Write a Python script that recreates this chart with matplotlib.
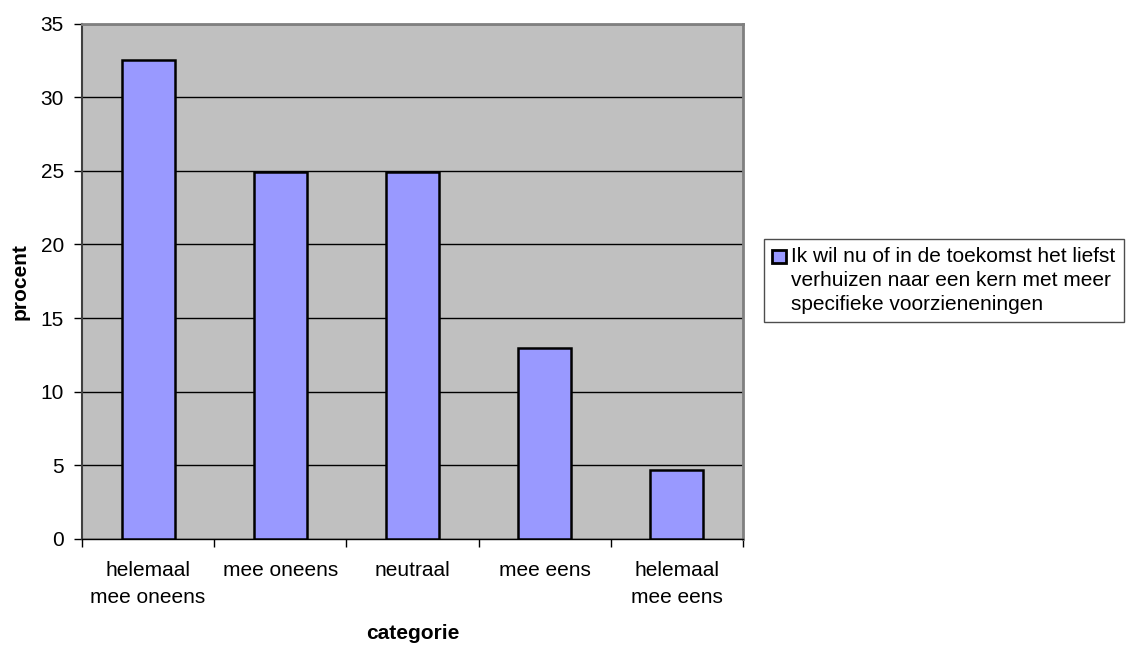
import matplotlib
matplotlib.use("Agg")
import matplotlib.pyplot as plt
import numpy as np
from matplotlib.patches import Patch, Rectangle
from matplotlib.legend_handler import HandlerPatch

categories = ["helemaal\nmee oneens", "mee oneens", "neutraal", "mee eens", "helemaal\nmee eens"]
values = [32.5, 24.9, 24.9, 13.0, 4.7]
series_label = "Ik wil nu of in de toekomst het liefst\nverhuizen naar een kern met meer\nspecifieke voorzieneningen"
yticks = [0, 5, 10, 15, 20, 25, 30, 35]

plt.rcParams['font.family'] = ['Liberation Sans', 'DejaVu Sans']
FS = 15

fig = plt.figure(figsize=(11.26, 6.46), dpi=100)
W, H = 1126, 646
ax = fig.add_axes([82 / W, 1 - 539 / H, (743 - 82) / W, (539 - 23.5) / H])
ax.set_facecolor('#C0C0C0')

x = np.arange(len(categories))
ax.bar(x, values, width=0.4, color='#9999FF', edgecolor='black', linewidth=1.8, zorder=3)

ax.set_xlim(-0.5, len(categories) - 0.5)
ax.set_ylim(0, 35)
ax.set_yticks(yticks)
ax.yaxis.grid(True, color='black', linewidth=1.0, zorder=1)
ax.set_axisbelow(True)

ax.set_xticks(x)
ax.set_xticklabels(categories, fontsize=FS, linespacing=1.55)
ax.set_xticks(np.arange(-0.5, len(categories)), minor=True)
ax.tick_params(axis='x', which='major', length=0, pad=16)
ax.tick_params(axis='x', which='minor', length=6, width=1, color='black', direction='out')
ax.tick_params(axis='y', length=6, width=1, color='black', direction='out', pad=7, labelsize=FS)

for s in ['top', 'right']:
    ax.spines[s].set_color('#808080')
    ax.spines[s].set_linewidth(2)
for s in ['left', 'bottom']:
    ax.spines[s].set_color('black')
    ax.spines[s].set_linewidth(1.0)
ax.spines['left'].set_color('#404040')
ax.spines['left'].set_linewidth(1.5)

ax.set_ylabel('procent', fontsize=FS, fontweight='bold', labelpad=8)
ax.set_xlabel('categorie', fontsize=FS, fontweight='bold', labelpad=12)


class TopHandler(HandlerPatch):
    def __init__(self, shift, **kw):
        super().__init__(**kw)
        self.shift = shift

    def create_artists(self, legend, orig_handle, xdescent, ydescent, width,
                       height, fontsize, trans):
        p = Rectangle((-xdescent, -ydescent + self.shift), width, height)
        self.update_prop(p, orig_handle, legend)
        p.set_transform(trans)
        return [p]


handle = Patch(facecolor='#9999FF', edgecolor='black', linewidth=2)
leg = fig.legend([handle], [series_label], loc='upper left',
                 bbox_to_anchor=(764 / W, 1 - 239 / H), fontsize=FS,
                 frameon=True, fancybox=False, handlelength=0.65, handleheight=0.65,
                 handletextpad=0.25, borderpad=0.4, borderaxespad=0,
                 handler_map={Patch: TopHandler(shift=17.5)})
leg.get_frame().set_edgecolor('#202020')
leg.get_frame().set_linewidth(1.0)
for t in leg.get_texts():
    t.set_linespacing(1.32)

fig.savefig('out.png', dpi=100)
